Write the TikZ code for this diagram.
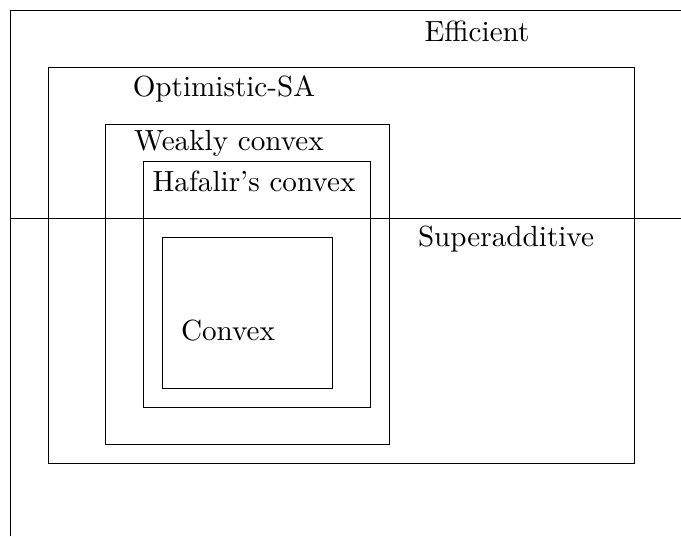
\documentclass[tikz,border=0pt]{standalone}
\usepackage{tikz}
\tikzstyle{setbox} = [draw=black, line width=0.35pt]
\tikzstyle{label} = [anchor=base, inner sep=0pt, scale=1.05]

\begin{document}
\begin{tikzpicture}[x=0.36pt, y=-0.36pt]
	\useasboundingbox (0,0) rectangle (681,536);
	% outer frame (Efficient), cut by the page
	\draw[setbox] (10,536) -- (10,10) -- (681,10);
	\draw[setbox] (10,218) -- (681,218);
	% nested classes
	\draw[setbox] (48,67) rectangle (634,463);
	\draw[setbox] (105,124) rectangle (389,444);
	\draw[setbox] (143,161) rectangle (370,407);
	\draw[setbox] (162,237) rectangle (332,388);
	% labels
	\node[label] (eff) at (477,41) {Efficient};
	\node[label] (osa) at (224,96) {Optimistic-SA};
	\node[label] (wcv) at (229,150) {Weakly convex};
	\node[label] (hcv) at (254,191) {Hafalir's convex};
	\node[label] (sad) at (506,246) {Superadditive};
	\node[label] (cvx) at (228,340) {Convex};
\end{tikzpicture}
\end{document}
